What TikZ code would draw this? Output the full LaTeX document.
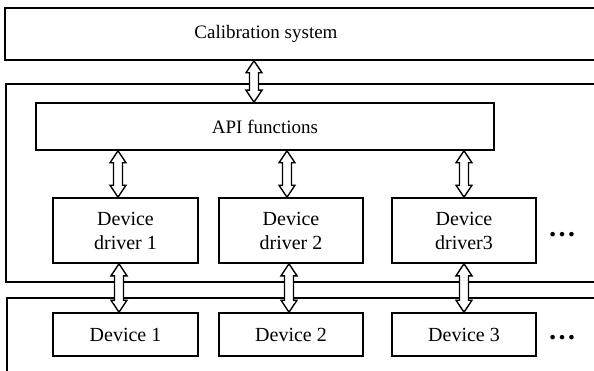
\documentclass[tikz,border=0pt]{standalone}
\usepackage{fontspec}
\setmainfont{Liberation Serif}
\usetikzlibrary{calc}
\tikzset{
  box/.style={draw, line width=1.6pt, rectangle, inner sep=0pt, align=center, fill=white},
  bigtext/.style={font=\fontsize{19}{23}\selectfont},
  devtext/.style={font=\fontsize{20}{24}\selectfont},
  fat/.style={draw, line width=1.4pt, fill=white, line join=miter},
  dots/.style={font=\bfseries\fontsize{28}{28}\selectfont}
}
\newcommand\fatarrow[3]{%
  \path[fat] let \p1=#2, \p2=#3 in
    (\x1+#1,\y1) -- (\x1+#1+8pt,\y1-12pt) -- (\x1+#1+4.5pt,\y1-12pt) --
    (\x1+#1+4.5pt,\y2+12pt) -- (\x1+#1+8pt,\y2+12pt) -- (\x1+#1,\y2) --
    (\x1+#1-8pt,\y2+12pt) -- (\x1+#1-4.5pt,\y2+12pt) --
    (\x1+#1-4.5pt,\y1-12pt) -- (\x1+#1-8pt,\y1-12pt) -- cycle;}
\begin{document}
\begin{tikzpicture}[x=1pt,y=1pt]
\useasboundingbox (0,0) rectangle (594,370);
\fill[white] (0,0) rectangle (594,370);
\clip (0,0) rectangle (594,370);
% outer boxes
\node[box, minimum width=595pt, minimum height=52pt] (cal) at (302.5,336) {};
\node[bigtext] (caltext) at (266,336) {Calibration system};
\node[box, minimum width=594pt, minimum height=198pt] (mid) at (303,187) {};
\node[box, minimum width=593pt, minimum height=82pt] (bot) at (303.5,31) {};
% API
\node[box, bigtext, minimum width=458pt, minimum height=47pt] (api) at (265,243.5) {API functions};
% drivers
\node[box, devtext, minimum width=145pt, minimum height=65pt] (d1) at (125.5,139.5) {Device\\driver 1};
\node[box, devtext, minimum width=144pt, minimum height=65pt] (d2) at (291,139.5) {Device\\driver 2};
\node[box, devtext, minimum width=144pt, minimum height=65pt] (d3) at (464,139.5) {Device\\driver3};
% devices
\node[box, devtext, minimum width=145pt, minimum height=43pt] (v1) at (125.5,35.5) {Device 1};
\node[box, devtext, minimum width=144pt, minimum height=43pt] (v2) at (291,35.5) {Device 2};
\node[box, devtext, minimum width=144pt, minimum height=43pt] (v3) at (464,35.5) {Device 3};
% dots
\node[dots] (dots1) at (562,135) {…};
\node[dots] (dots2) at (562,32) {…};
% arrows
\fatarrow{-11pt}{(cal.south -| api.north)}{(api.north)}
\fatarrow{-7.5pt}{(api.south -| d1.north)}{(d1.north)}
\fatarrow{-4pt}{(api.south -| d2.north)}{(d2.north)}
\fatarrow{0pt}{(api.south -| d3.north)}{(d3.north)}
\fatarrow{-6.5pt}{(d1.south)}{(v1.north)}
\fatarrow{-2pt}{(d2.south)}{(v2.north)}
\fatarrow{0pt}{(d3.south)}{(v3.north)}
\end{tikzpicture}
\end{document}
